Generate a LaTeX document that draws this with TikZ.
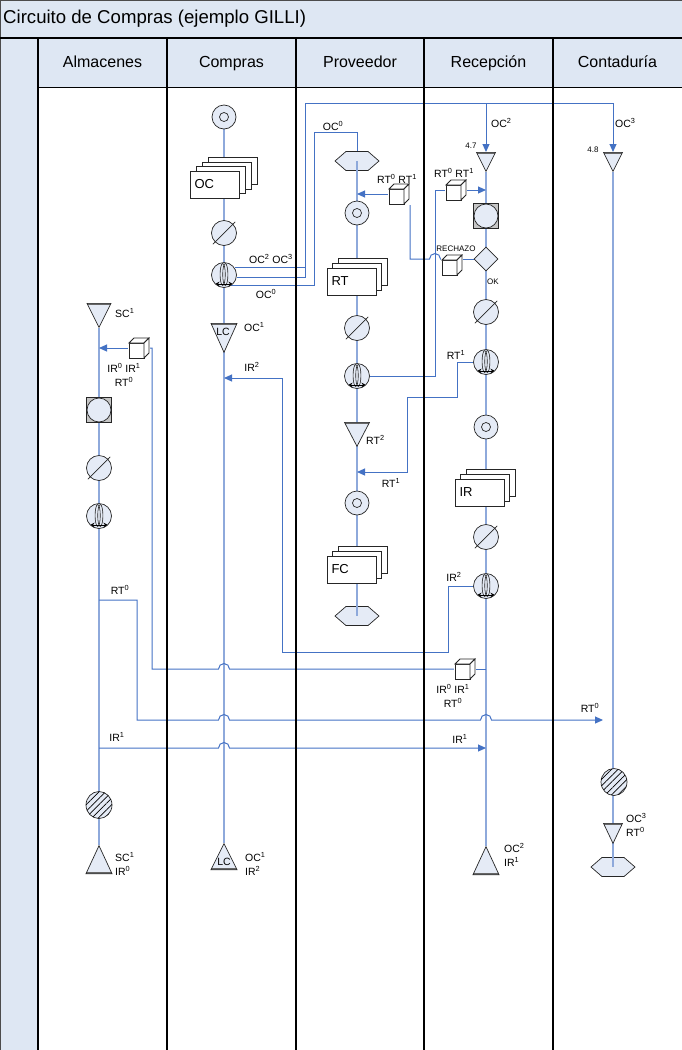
\documentclass[tikz,border=0pt]{standalone}
\usepackage{fontspec}
\setmainfont{Liberation Sans}
\usepackage{xcolor}
\usepackage{tikz}
\usetikzlibrary{arrows.meta, positioning, calc, backgrounds, shapes.geometric, shapes.symbols, shadows, patterns.meta}

\definecolor{lanefill}{RGB}{222,231,243}
\definecolor{symfill}{RGB}{229,235,246}
\definecolor{flowblue}{RGB}{68,114,196}
\definecolor{colblue}{RGB}{142,169,219}

\begin{document}
\begin{tikzpicture}[
    x=1pt, y=-1pt,
    every node/.style={font=\fontsize{10.5}{14}\selectfont},
    sym/.style={draw=black!85, fill=symfill, inner sep=0, line width=0.7pt},
    opn/.style={sym, circle, minimum size=24pt,
                path picture={\draw[black!85, line width=0.7pt] (path picture bounding box.center) circle (4.5pt);}},
    ctrl/.style={sym, circle, minimum size=25pt},
    slash/.style={black!85, line width=0.7pt, shorten <=-3pt, shorten >=-3pt},
    cmp/.style={sym, circle, minimum size=25pt,
                path picture={
                    \draw[black!85, line width=0.6pt] ($(path picture bounding box.center)+(-1.3pt,0.5pt)$) ellipse (2.6pt and 11pt);
                    \draw[black!85, line width=0.6pt] ($(path picture bounding box.center)+(1.3pt,0.5pt)$) ellipse (2.6pt and 11pt);
                    \draw[black, line width=0.8pt, {Stealth[length=4.5pt,width=4.5pt]}-{Stealth[length=4.5pt,width=4.5pt]}]
                        ($(path picture bounding box.center)+(-9pt,-9pt)$) -- ($(path picture bounding box.center)+(9pt,-9pt)$);}},
    sqc/.style={draw=black!85, fill=gray!45, rectangle, minimum size=25pt, inner sep=0, line width=0.7pt,
                path picture={\draw[black!85, line width=0.7pt, fill=symfill] (path picture bounding box.center) circle (12pt);}},
    dec/.style={sym, diamond, minimum size=24pt},
    hexa/.style={sym, signal, signal to=east and west, signal pointer angle=82,
                 minimum width=44pt, minimum height=19pt},
    archd/.style={sym, isosceles triangle, isosceles triangle stretches, shape border rotate=270,
                  minimum width=24pt, minimum height=24pt, anchor=lower side,
                  path picture={\draw[line width=3pt, black!60] (path picture bounding box.north west) -- (path picture bounding box.north east);}},
    archu/.style={sym, isosceles triangle, isosceles triangle stretches, shape border rotate=90,
                  minimum width=26pt, minimum height=26pt, anchor=lower side,
                  path picture={\draw[line width=3pt, black!60] (path picture bounding box.south west) -- (path picture bounding box.south east);}},
    doc/.style={draw=black!85, fill=white, rectangle, minimum width=49pt, minimum height=27pt, inner sep=0,
                line width=0.8pt, text width=40pt, align=left, font=\fontsize{13}{15}\selectfont},
    doc3/.style={doc, double copy shadow={shadow xshift=5.5pt, shadow yshift=5pt}},
    doc4/.style={doc, copy shadow={shadow xshift=18pt, shadow yshift=13.5pt},
                 double copy shadow={shadow xshift=6pt, shadow yshift=4.5pt}},
    cube/.style={rectangle, fill=white, minimum size=22pt, inner sep=0,
                 path picture={
                    \draw[black!85, line width=0.8pt, fill=white] ($(path picture bounding box.center)+(-10pt,-10pt)$) rectangle ++(15pt,15pt);
                    \draw[black!85, line width=0.8pt, fill=white] ($(path picture bounding box.center)+(-10pt,5pt)$) -- ++(5pt,5pt) -- ++(15pt,0pt) -- ++(-5pt,-5pt) -- cycle;
                    \draw[black!85, line width=0.8pt, fill=white] ($(path picture bounding box.center)+(5pt,-10pt)$) -- ++(5pt,5pt) -- ++(0pt,15pt) -- ++(-5pt,-5pt) -- cycle;}},
    hatch/.style={draw=black!85, fill=symfill, ellipse, minimum width=26pt, minimum height=27pt, inner sep=0,
                  line width=0.7pt, postaction={pattern={Lines[angle=45, distance=4.5pt, line width=0.7pt]}}},
    lab/.style={font=\fontsize{10.5}{14}\selectfont, inner sep=1pt},
    tiny/.style={font=\fontsize{8}{9}\selectfont, inner sep=1pt},
    head/.style={font=\fontsize{16}{18}\selectfont, anchor=base},
    flow/.style={draw=flowblue, line width=1pt},
    col/.style={draw=colblue, line width=1.3pt},
    arr/.style={flow, -{Triangle[length=8pt, width=7pt]}},
]

    \useasboundingbox (0,0) rectangle (682,1050);

    % ── Frame and lanes ──
    \fill[lanefill] (0,0) rectangle (682,87);
    \fill[lanefill] (0,87) rectangle (38,1050);
    \draw[black!70, line width=1pt] (0,0) rectangle (682,1050);
    \draw[line width=1.5pt] (0,38) -- (682,38);
    \draw[line width=0.8pt] (38,87) -- (682,87);
    \foreach \x in {38,167,296,424,553}
        \draw[line width=1.2pt] (\x,38) -- (\x,1050);

    \node[font=\fontsize{18.6}{20}\selectfont, anchor=west, inner sep=0] (title) at (3,19) {Circuito de Compras (ejemplo GILLI)};
    \node[head] (hAlm) at (102.5,67) {Almacenes};
    \node[head] (hCom) at (231.5,67) {Compras};
    \node[head] (hPro) at (360,67) {Proveedor};
    \node[head] (hRec) at (488.5,67) {Recepción};
    \node[head] (hCon) at (617.5,67) {Contaduría};

    % ── Almacenes ──
    \node[archd] (arA1) at (99,303) {};
    \node[lab, anchor=west] (lSCa) at (114,313) {SC\textsuperscript{1}};
    \node[cube] (cubeA) at (139,348) {};
    \node[lab, align=center] (lIRa) at (124,375) {IR\textsuperscript{0} IR\textsuperscript{1}\\RT\textsuperscript{0}};
    \node[sqc] (sqA) at (99,410) {};
    \node[ctrl] (ckA) at (99,468) {};
    \draw[slash] (ckA.south west) -- (ckA.north east);
    \node[cmp] (cmpA) at (99,516) {};
    \coordinate (jT0) at (99,600);
    \node[lab] (lRTa) at (120,590) {RT\textsuperscript{0}};
    \coordinate (jT1) at (137,720);
    \coordinate (jI3) at (99,748);
    \node[lab] (lIRb) at (117,737) {IR\textsuperscript{1}};
    \node[hatch] (htA) at (99,805) {};
    \node[archu, minimum height=28pt] (arA2) at (99,874) {};
    \node[lab, anchor=west, align=left] (lSCb) at (114,864) {SC\textsuperscript{1}\\IR\textsuperscript{0}};

    % ── Compras ──
    \node[opn] (opC) at (224,117) {};
    \node[doc4] (docOC) at (214.5,184.5) {OC};
    \node[ctrl] (ckC) at (224,233) {};
    \draw[slash] (ckC.south west) -- (ckC.north east);
    \node[cmp] (cmpC) at (224,275) {};
    \node[lab] (lOC23) at (271,259) {OC\textsuperscript{2} OC\textsuperscript{3}};
    \node[lab] (lOC0) at (266,294) {OC\textsuperscript{0}};
    \node[archd, minimum width=26pt, minimum height=29pt] (lcC) at (224,323) {};
    \node[lab] (tLC1) at (223,332) {LC};
    \node[lab, anchor=west] (lOC1) at (243,327) {OC\textsuperscript{1}};
    \coordinate (jI2) at (282,378);
    \node[lab] (lIR2) at (252,367) {IR\textsuperscript{2}};
    \node[archu] (lcC2) at (224,870) {};
    \node[lab] (tLC2) at (224,862) {LC};
    \node[lab, anchor=west, align=left] (lOC1b) at (244,864) {OC\textsuperscript{1}\\IR\textsuperscript{2}};

    % ── Proveedor ──
    \coordinate (jOC0) at (314,132);
    \node[lab] (lOC0b) at (333,126) {OC\textsuperscript{0}};
    \node[hexa] (hexP1) at (357,161) {};
    \node[cube] (cubeP) at (399,194) {};
    \node[lab] (lRTp) at (397,179) {RT\textsuperscript{0} RT\textsuperscript{1}};
    \node[opn] (opP1) at (357,213) {};
    \node[doc3] (docRT) at (351.5,281.5) {RT};
    \node[ctrl] (ckP) at (357,328) {};
    \draw[slash] (ckP.south west) -- (ckP.north east);
    \node[cmp] (cmpP) at (357,376) {};
    \node[archd, minimum width=25pt] (arP) at (357,422) {};
    \node[lab, anchor=west] (lRT2) at (365,440) {RT\textsuperscript{2}};
    \coordinate (jR2) at (407,472);
    \node[lab] (lRT1b) at (391,483) {RT\textsuperscript{1}};
    \node[opn] (opP2) at (357,503) {};
    \node[doc3] (docFC) at (351.5,569.5) {FC};
    \node[hexa] (hexP2) at (357,616) {};

    % ── Recepción ──
    \coordinate (jOC) at (305,103);
    \node[lab, anchor=west] (lOC2) at (490,123) {OC\textsuperscript{2}};
    \node[tiny] (l47) at (471,146) {4.7};
    \node[archd, minimum width=19pt, minimum height=19pt] (arR1) at (486,152) {};
    \coordinate (jRT) at (435,190);
    \node[cube] (cubeR1) at (456,190) {};
    \node[lab] (lRTr) at (454,173) {RT\textsuperscript{0} RT\textsuperscript{1}};
    \node[sqc] (sqR) at (486,216) {};
    \node[dec] (dmR) at (486,259) {};
    \node[cube] (cubeRj) at (452,265) {};
    \node[tiny] (lRech) at (456,249) {RECHAZO};
    \node[tiny] (lOK) at (493,282) {OK};
    \node[ctrl] (ckR1) at (486,312) {};
    \draw[slash] (ckR1.south west) -- (ckR1.north east);
    \node[cmp] (cmpR1) at (486,362) {};
    \node[lab] (lRT1a) at (456,355) {RT\textsuperscript{1}};
    \coordinate (jR1) at (457,397);
    \node[opn] (opR) at (486,427) {};
    \node[doc3] (docIR) at (479.5,492.5) {IR};
    \node[ctrl] (ckR2) at (486,537) {};
    \draw[slash] (ckR2.south west) -- (ckR2.north east);
    \node[cmp] (cmpR2) at (486,586) {};
    \node[lab] (lIR2r) at (454,577) {IR\textsuperscript{2}};
    \coordinate (jI1) at (448,652);
    \node[cube] (cubeR2) at (465,669) {};
    \node[lab, align=center] (lIRr) at (453,696) {IR\textsuperscript{0} IR\textsuperscript{1}\\RT\textsuperscript{0}};
    \node[lab] (lIR1r) at (460,739) {IR\textsuperscript{1}};
    \node[archu, minimum height=28pt] (arR2) at (486,875) {};
    \node[lab, anchor=west, align=left] (lOC2b) at (503,855) {OC\textsuperscript{2}\\IR\textsuperscript{1}};

    % ── Contaduría ──
    \node[lab, anchor=west] (lOC3) at (614,123) {OC\textsuperscript{3}};
    \node[tiny] (l48) at (593,150) {4.8};
    \node[archd, minimum width=19pt, minimum height=19pt] (arK1) at (613,152) {};
    \coordinate (jT2) at (603,720);
    \node[lab] (lRT0k) at (590,708) {RT\textsuperscript{0}};
    \node[hatch] (htK) at (614,782) {};
    \node[archd, minimum width=19pt, minimum height=20pt] (arK2) at (613,823) {};
    \node[lab, anchor=west, align=left] (lOC3b) at (625,825) {OC\textsuperscript{3}\\RT\textsuperscript{0}};
    \node[hexa] (hexK) at (613,867) {};

    % ── Flow lines ──
    \begin{scope}[on background layer]
        \draw[col] (arA1) -- (arA2);
        \draw[col] (opC) -- (lcC2);
        \draw[col] (hexP1) -- (hexP2);
        \draw[col] (arR1) -- (arR2);
        \draw[col] (arK1) -- (hexK);

        % OC copies out of Compras
        \draw[arr] (cmpC.35) -| (jOC) -| (arK1.north);
        \draw[arr] (jOC) -| (arR1.north);
        \draw[flow] (cmpC.-10) -| (jOC);
        \draw[flow] (cmpC.-56) -| (jOC0) -| (hexP1.north);

        % RT from Proveedor to Recepción
        \draw[flow] (cmpP.east) -| (jRT) -- (cubeR1.west);
        \draw[arr] (cubeR1.east) -- (cubeR1.east -| sqR);

        % rechazo back to Proveedor
        \draw[flow] (dmR.west) -- (dmR.west -| cubeRj.east);
        \draw[flow] (dmR.west -| cubeRj.west) -- ($(dmR.west -| jRT)+(5.5,0)$)
            arc[start angle=0, end angle=180, radius=5.5pt] -| (cubeP.south east);
        \draw[arr] (cubeP.west) -- (cubeP.west -| hexP1);

        % RT1 back to Proveedor
        \draw[arr] (cmpR1.west) -| (jR1) -| (jR2) -- (jR2 -| opP2);

        % IR2 to Compras
        \draw[arr] (cmpR2.west) -| (jI1) -| (jI2) -- (jI2 -| lcC);

        % IR0 IR1 RT0 to Almacenes
        \draw[flow] (cubeR2.east -| cmpR2) -- (cubeR2.east);
        \draw[flow] (cubeR2.west) -- ($(cubeR2.west -| lcC)+(5.5,0)$)
            arc[start angle=0, end angle=180, radius=5.5pt] -- (cubeR2.west -| 152,0) |- (cubeA.east);
        \draw[arr] (cubeA.west) -- (cubeA.west -| sqA);

        % RT0 to Contaduría
        \draw[arr] (jT0) -| (jT1) -- ($(jT1 -| lcC)+(-5.5,0)$)
            arc[start angle=180, end angle=0, radius=5.5pt] -- ($(jT1 -| arR2)+(-5.5,0)$)
            arc[start angle=180, end angle=0, radius=5.5pt] -- (jT2);

        % IR1 to Recepción
        \draw[arr] (jI3) -- ($(jI3 -| lcC)+(-5.5,0)$)
            arc[start angle=180, end angle=0, radius=5.5pt] -- (jI3 -| arR2);
    \end{scope}

    % line shown across the terminal shapes
    \draw[col] (hexP1.center) -- (hexP1.south);
    \draw[col] (hexP2.north) -- (hexP2.center);
    \draw[col] (hexK.north) -- (hexK.center);

\end{tikzpicture}
\end{document}
